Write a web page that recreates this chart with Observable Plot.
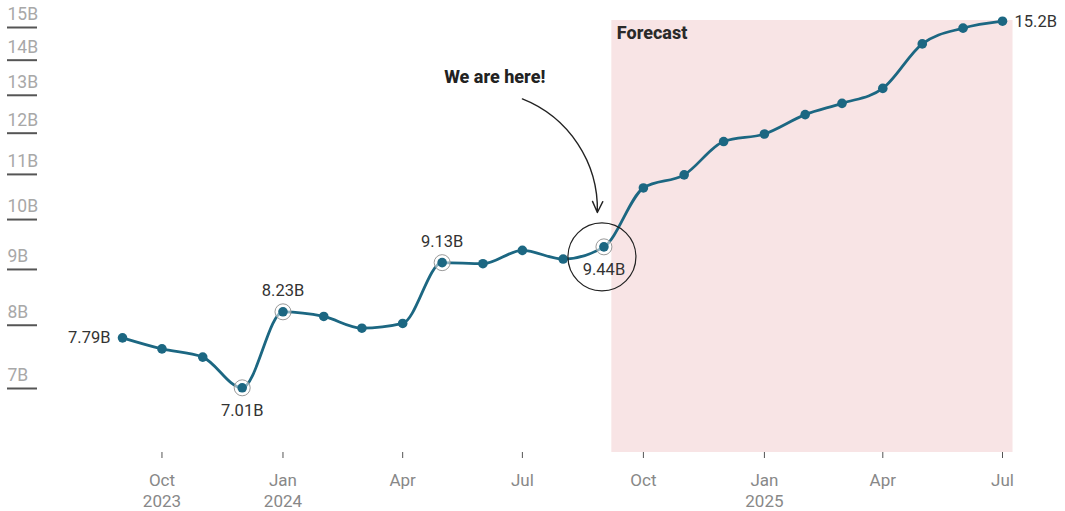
<!DOCTYPE html>
<html>
<head>
<meta charset="utf-8">
<script src="https://cdn.jsdelivr.net/npm/d3@7"></script>
<script src="https://cdn.jsdelivr.net/npm/@observablehq/plot@0.6"></script>
<style>
  html, body { margin: 0; padding: 0; background: #fff; }
  #chart { width: 1065px; height: 511px; }
</style>
</head>
<body>
<div id="chart"></div>
<script>
// ---- data ----
const months = ["2023-09-01","2023-10-01","2023-11-01","2023-12-01","2024-01-01","2024-02-01","2024-03-01","2024-04-01","2024-05-01","2024-06-01","2024-07-01","2024-08-01","2024-09-01","2024-10-01","2024-11-01","2024-12-01","2025-01-01","2025-02-01","2025-03-01","2025-04-01","2025-05-01","2025-06-01","2025-07-01"];
const values = [7.79, 7.61, 7.48, 7.01, 8.23, 8.15, 7.95, 8.03, 9.13, 9.11, 9.37, 9.20, 9.44, 10.69, 10.99, 11.79, 11.98, 12.48, 12.78, 13.19, 14.49, 14.98, 15.2];
const highlightMonths = ["2023-12-01","2024-01-01","2024-05-01","2024-09-01"];
const labelAbove = ["2024-01-01","2024-05-01"];
const labelBelow = ["2023-12-01","2024-09-01"];
const labelLeft = ["2023-09-01"];
const labelRight = ["2025-07-01"];
const yTicks = [7, 8, 9, 10, 11, 12, 13, 14, 15];
const xTicks = ["2023-10-01","2024-01-01","2024-04-01","2024-07-01","2024-10-01","2025-01-01","2025-04-01","2025-07-01"];
const forecastBand = [{start: "2024-09-07", end: "2025-07-09", label: "Forecast"}];
const hereNote = [{text: "We are here!", x: "2024-06-10", y: 13.5, ax1: "2024-07-01", ay1: 12.9, ax2: "2024-08-27", ay2: 10.15, month: "2024-09-01"}];

// ---- build ----
const data = months.map((m, i) => ({date: new Date(m), value: values[i]}));
const pick = list => data.filter(d => list.some(m => +new Date(m) === +d.date));
const fmtV = d => d.value + "B";
const monthName = d3.utcFormat("%b");
const color = "#1c6782";

const chart = Plot.plot({
  width: 1065,
  height: 511,
  marginTop: 20,
  marginBottom: 59,
  marginLeft: 122,
  marginRight: 63,
  style: {fontFamily: "Roboto, sans-serif", fontSize: "15px", background: "#fff", color: "#333"},
  x: {type: "utc", domain: [new Date(months[0]), new Date(months[months.length - 1])], label: null},
  y: {type: "log", domain: [7, 15], range: [388, 27], label: null},
  marks: [
    Plot.rectX(forecastBand, {x1: d => new Date(d.start), x2: d => new Date(d.end), fill: "#f8e4e5"}),
    Plot.text(forecastBand, {x: d => new Date(d.start), text: "label", frameAnchor: "top", lineAnchor: "middle", textAnchor: "start", dx: 5, dy: 13, fontWeight: 800, fontSize: 18, fill: "#2a2a2a"}),
    // y axis: tick lines
    Plot.axisY({ticks: yTicks, tickSize: 30, dx: -85, stroke: "#555", strokeWidth: 2, fill: "none", label: null}),
    // y axis: labels above tick lines
    Plot.axisY({ticks: yTicks, tickSize: 0, tickPadding: 0, textAnchor: "start", dx: -115, dy: -13, fill: "#a8a8a8", fontSize: 17.5, tickFormat: d => d + "B", label: null}),
    // x axis
    Plot.axisX({
      ticks: xTicks.map(d => new Date(d)),
      tickSize: 6, tickPadding: 12, stroke: "#555", fill: "#888", fontSize: 17, lineHeight: 1.25, label: null,
      tickFormat: (d, i) => monthName(d) + ((i === 0 || d.getUTCMonth() === 0) ? "\n" + d.getUTCFullYear() : "")
    }),
    Plot.line(data, {x: "date", y: "value", stroke: color, strokeWidth: 2.8, curve: "monotone-x"}),
    Plot.dot(pick(highlightMonths), {x: "date", y: "value", r: 8, fill: "#fff", fillOpacity: 0.5, stroke: "#999", strokeWidth: 1}),
    Plot.dot(data, {x: "date", y: "value", r: 4.8, fill: color}),
    Plot.text(pick(labelAbove), {x: "date", y: "value", text: fmtV, dy: -21, fontSize: 16.5, fill: "#333"}),
    Plot.text(pick(labelBelow), {x: "date", y: "value", text: fmtV, dy: 23, fontSize: 16.5, fill: "#333"}),
    Plot.text(pick(labelLeft), {x: "date", y: "value", text: fmtV, dx: -12, textAnchor: "end", fontSize: 16.5, fill: "#333"}),
    Plot.text(pick(labelRight), {x: "date", y: "value", text: fmtV, dx: 12, textAnchor: "start", fontSize: 16.5, fill: "#333"}),
    // annotation
    Plot.text(hereNote, {x: d => new Date(d.x), y: "y", text: "text", fontWeight: 800, fontSize: 18, fill: "#222"}),
    Plot.arrow(hereNote, {x1: d => new Date(d.ax1), y1: "ay1", x2: d => new Date(d.ax2), y2: "ay2", bend: 35, stroke: "#222", strokeWidth: 1.4, headLength: 13, headAngle: 50}),
    Plot.dot(hereNote, {x: d => new Date(d.month), y: () => values[months.indexOf("2024-09-01")], r: 34, fill: "none", stroke: "#222", strokeWidth: 1.2, dx: -2, dy: 10})
  ]
});
document.getElementById("chart").appendChild(chart);
</script>
</body>
</html>
